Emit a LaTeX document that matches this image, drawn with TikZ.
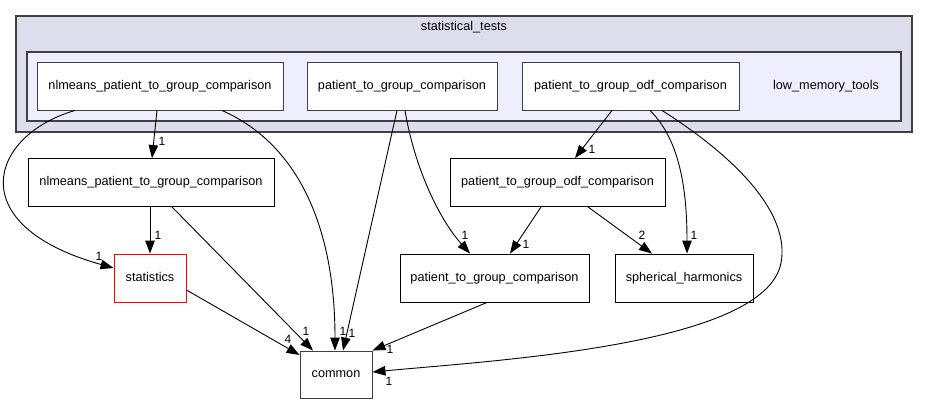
\documentclass[tikz,border=0pt]{standalone}
\usepackage{fontspec}
\setmainfont{Liberation Sans}
\usetikzlibrary{arrows.meta}

\definecolor{outerfill}{HTML}{DDDDEE}
\definecolor{innerfill}{HTML}{EEEEFF}
\definecolor{frameline}{HTML}{404040}

\begin{document}
\begin{tikzpicture}[x=1pt,y=-1pt,
    every node/.style={font=\fontsize{12.7}{15}\selectfont},
    dirbox/.style={draw=black,fill=white,line width=0.9pt,inner sep=0pt,
      text height=9pt,text depth=2.5pt,minimum height=48pt},
    topbox/.style={dirbox,draw=frameline},
    dep/.style={line width=0.9pt,-{Triangle[length=13pt,width=9.5pt]}},
    lbl/.style={inner sep=0pt,font=\fontsize{12}{14}\selectfont}
  ]
    \useasboundingbox (0,0) rectangle (928,404);
    % clusters
    \draw[frameline,fill=outerfill,line width=1.2pt] (16,16) rectangle (912,132);
    \draw[frameline,fill=innerfill,line width=1.2pt] (27,52) rectangle (901,121);
    \node (stattests) at (464,27) {statistical\_tests};
    \node (lowmem) at (826,86) {low\_memory\_tools};

    % nodes
    \node[topbox,minimum width=246pt] (nlm) at (160,86) {nlmeans\_patient\_to\_group\_comparison};
    \node[topbox,minimum width=190pt] (ptg) at (402,86) {patient\_to\_group\_comparison};
    \node[topbox,minimum width=217pt] (odf) at (630.5,86) {patient\_to\_group\_odf\_comparison};
    \node[dirbox,minimum width=246pt] (nlmsub) at (151,182.5) {nlmeans\_patient\_to\_group\_comparison};
    \node[dirbox,minimum width=215pt] (odfsub) at (557.5,182.5) {patient\_to\_group\_odf\_comparison};
    \node[dirbox,draw=red,minimum width=72pt] (stats) at (150,278) {statistics};
    \node[dirbox,minimum width=189pt] (ptgsub) at (494.5,278) {patient\_to\_group\_comparison};
    \node[dirbox,minimum width=138pt] (sph) at (684,278) {spherical\_harmonics};
    \node[topbox,minimum width=72pt,minimum height=47pt] (common) at (336,374.5) {common};

    % dependencies
    \draw[dep] ([xshift=-3pt]nlm.south) -- ([xshift=1pt]nlmsub.north);
    \draw[dep] ([xshift=-85pt]nlm.south) .. controls (-10,135) and (-40,225) .. ([yshift=10pt]stats.west);
    \draw[dep] ([xshift=62pt]nlm.south) .. controls (300,145) and (335,230) .. ([xshift=-1pt]common.north);
    \draw[dep] ([xshift=-5pt]ptg.south) -- ([xshift=7pt]common.north);
    \draw[dep] ([xshift=3pt]ptg.south) .. controls (415,170) and (440,220) .. ([xshift=-24.5pt]ptgsub.north);
    \draw[dep] ([xshift=-18.5pt]odf.south) -- ([xshift=17.5pt]odfsub.north);
    \draw[dep] ([xshift=19.5pt]odf.south) .. controls (680,140) and (687,190) .. ([xshift=3pt]sph.north);
    \draw[dep] ([xshift=31.5pt]odf.south) .. controls (740,160) and (790,215) .. (781,263)
      .. controls (765,345) and (500,360) .. ([yshift=2.5pt]common.east);
    \draw[dep] ([xshift=-16.5pt]odfsub.south) -- ([xshift=15.5pt]ptgsub.north);
    \draw[dep] ([xshift=30.5pt]odfsub.south) -- ([xshift=-32pt]sph.north);
    \draw[dep] ([xshift=-1pt]nlmsub.south) -- (stats.north);
    \draw[dep] ([xshift=21pt]nlmsub.south) -- ([xshift=-23pt]common.north);
    \draw[dep] ([yshift=-12pt]stats.east) -- ([yshift=19.5pt]common.west);
    \draw[dep] ([xshift=-7.5pt]ptgsub.south) -- (common.north east);

    % counts
    \node[lbl] (c1) at (162,141) {1};
    \node[lbl] (c2) at (99,256) {1};
    \node[lbl] (c3) at (158,235) {1};
    \node[lbl] (c4) at (306,331) {1};
    \node[lbl] (c5) at (343,331) {1};
    \node[lbl] (c6) at (352,333) {1};
    \node[lbl] (c7) at (288,339) {4};
    \node[lbl] (c8) at (390,349) {1};
    \node[lbl] (c9) at (389,381) {1};
    \node[lbl] (c10) at (465,235) {1};
    \node[lbl] (c11) at (526,244) {1};
    \node[lbl] (c12) at (642,235) {2};
    \node[lbl] (c13) at (694,235) {1};
    \node[lbl] (c14) at (592,149) {1};
\end{tikzpicture}
\end{document}
